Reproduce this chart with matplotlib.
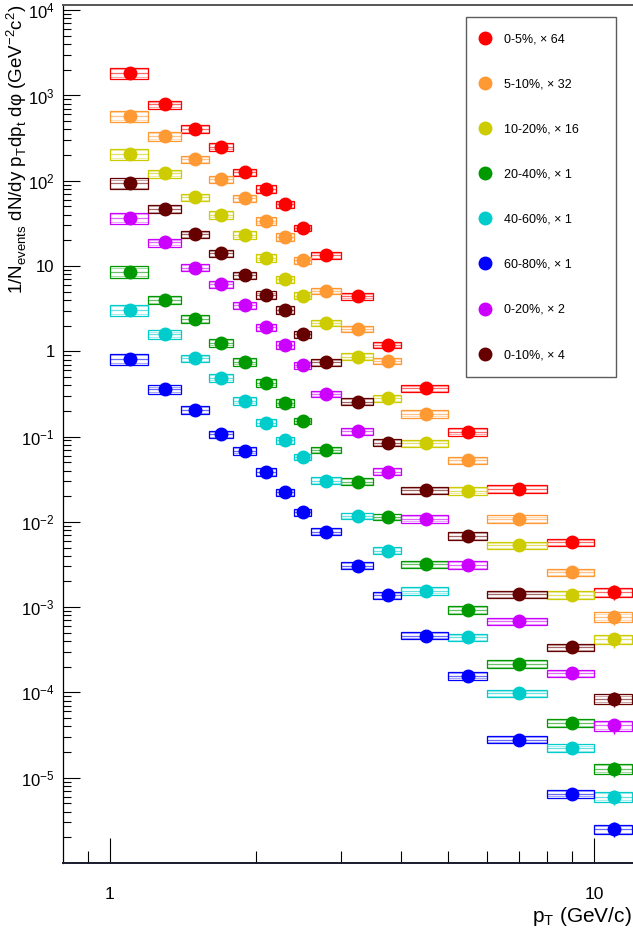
from __future__ import annotations

import matplotlib

matplotlib.use("Agg")
import matplotlib.pyplot as plt
import numpy as np
from matplotlib.lines import Line2D
from matplotlib.patches import Rectangle
from matplotlib.ticker import FixedLocator, LogLocator, NullFormatter

# pT bins (GeV/c) and bin centres
PT_EDGES = [1.0, 1.2, 1.4, 1.6, 1.8, 2.0, 2.2, 2.4, 2.6, 3.0, 3.5, 4.0, 5.0, 6.0, 8.0, 10.0, 12.0]
PT_CENTERS = [1.1, 1.3, 1.5, 1.7, 1.9, 2.1, 2.3, 2.5, 2.8, 3.25, 3.75, 4.5, 5.5, 7.0, 9.0, 11.0]

# scaled yields
Y_0_5 = [1840, 784, 406, 250, 126, 80, 53, 28, 13.4, 4.45, 1.19, 0.368, 0.114, 0.0243, 0.0058, 0.0015]
Y_5_10 = [572, 333, 178, 104, 62, 34, 22, 11.7, 5.1, 1.83, 0.77, 0.186, 0.053, 0.0108, 0.00255, 0.00077]
Y_10_20 = [207, 122, 64, 40, 23.3, 12.5, 7.0, 4.5, 2.16, 0.865, 0.28, 0.083, 0.0232, 0.0053, 0.00139, 0.00042]
Y_20_40 = [8.6, 4.0, 2.4, 1.26, 0.755, 0.428, 0.25, 0.153, 0.070, 0.0297, 0.0115, 0.0032, 0.00093, 0.000216, 4.4e-5, 1.28e-5]
Y_40_60 = [3.05, 1.58, 0.83, 0.49, 0.264, 0.146, 0.09, 0.058, 0.0304, 0.0118, 0.0046, 0.00156, 0.000445, 9.8e-5, 2.23e-5, 6.0e-6]
Y_60_80 = [0.813, 0.358, 0.205, 0.107, 0.0685, 0.0385, 0.0222, 0.013, 0.0077, 0.00307, 0.00137, 0.000465, 0.000157, 2.8e-5, 6.5e-6, 2.5e-6]
Y_0_20 = [36.8, 18.9, 9.6, 6.1, 3.46, 1.91, 1.19, 0.69, 0.316, 0.116, 0.0388, 0.0109, 0.00313, 0.000686, 0.000168, 4.1e-5]
Y_0_10 = [93, 46.5, 23.7, 14.1, 7.8, 4.57, 3.05, 1.59, 0.743, 0.257, 0.085, 0.0235, 0.00685, 0.00142, 0.00034, 8.4e-5]

# relative systematic (box) and statistical (bar) uncertainties per bin
SYS_FRAC = [0.15, 0.11, 0.10, 0.10, 0.10, 0.10, 0.10, 0.09, 0.09, 0.09, 0.09, 0.10, 0.10, 0.10, 0.10, 0.13]
STAT_FRAC = [0.01, 0.01, 0.01, 0.01, 0.01, 0.01, 0.01, 0.01, 0.01, 0.01, 0.01, 0.01, 0.01, 0.03, 0.06, 0.20]

SERIES = [
    ("0-5%, × 64", "#ff0000", Y_0_5),
    ("5-10%, × 32", "#ff9933", Y_5_10),
    ("10-20%, × 16", "#cccc00", Y_10_20),
    ("20-40%, × 1", "#009900", Y_20_40),
    ("40-60%, × 1", "#00cccc", Y_40_60),
    ("60-80%, × 1", "#0000ff", Y_60_80),
    ("0-20%, × 2", "#cc00ff", Y_0_20),
    ("0-10%, × 4", "#660000", Y_0_10),
]

Y_TICKS = [1e-5, 1e-4, 1e-3, 1e-2, 1e-1, 1, 10, 1e2, 1e3, 1e4]
Y_TICK_LABELS = [
    r"$\mathdefault{10^{-5}}$", r"$\mathdefault{10^{-4}}$", r"$\mathdefault{10^{-3}}$",
    r"$\mathdefault{10^{-2}}$", r"$\mathdefault{10^{-1}}$", "1", "10",
    r"$\mathdefault{10^{2}}$", r"$\mathdefault{10^{3}}$", r"$\mathdefault{10^{4}}$",
]
X_TICKS = [1, 10]
X_TICK_LABELS = ["1", "10"]
X_MINOR = [0.9, 2, 3, 4, 5, 6, 7, 8, 9]

W, H = 633, 935
AX_L, AX_R, AX_T, AX_B = 63, 634, 5, 863


def draw_series(ax, color, values):
    for i, y in enumerate(values):
        lo, hi = PT_EDGES[i], PT_EDGES[i + 1]
        s = SYS_FRAC[i]
        ax.add_patch(Rectangle((lo, y * (1 - s)), hi - lo, 2 * s * y, fill=False,
                               edgecolor=color, lw=0.9, zorder=2))
        si = 0.7 * s
        ax.add_patch(Rectangle((lo, y * (1 - si)), hi - lo, 2 * si * y, fill=False,
                               edgecolor=color, lw=0.8, alpha=0.35, zorder=2))
    ax.hlines(values, PT_EDGES[:-1], PT_EDGES[1:], colors=color, lw=0.9, alpha=0.6, zorder=2)
    yerr = np.array(STAT_FRAC) * np.array(values)
    ax.errorbar(PT_CENTERS, values, yerr=yerr, fmt="o", color=color, ms=9,
                elinewidth=1, capsize=0, zorder=3)


def main() -> None:
    plt.rcParams["font.family"] = ["Liberation Sans", "DejaVu Sans"]
    fig = plt.figure(figsize=(W / 100, H / 100), dpi=100)
    ax = fig.add_axes([AX_L / W, 1 - AX_B / H, (AX_R - AX_L) / W, (AX_B - AX_T) / H])
    ax.set_xscale("log")
    ax.set_yscale("log")

    for label, color, values in SERIES:
        draw_series(ax, color, values)

    ax.set_xlim(0.8, 12.1)
    ax.set_ylim(1e-6, 1.15e4)

    ax.yaxis.set_major_locator(FixedLocator(Y_TICKS))
    ax.set_yticklabels(Y_TICK_LABELS)
    ax.yaxis.set_minor_locator(LogLocator(base=10, subs=np.arange(2, 10), numticks=100))
    ax.yaxis.set_minor_formatter(NullFormatter())
    ax.xaxis.set_major_locator(FixedLocator(X_TICKS))
    ax.set_xticklabels(X_TICK_LABELS)
    ax.xaxis.set_minor_locator(FixedLocator(X_MINOR))
    ax.xaxis.set_minor_formatter(NullFormatter())

    ax.tick_params(axis="y", which="major", direction="in", length=12, width=0.8, labelsize=12, pad=6)
    ax.tick_params(axis="y", which="minor", direction="in", length=6, width=0.8)
    ax.tick_params(axis="x", which="major", direction="in", length=18, width=0.8, labelsize=12.5, pad=17)
    ax.tick_params(axis="x", which="minor", direction="in", length=9, width=0.8)

    ax.spines["right"].set_visible(False)
    ax.spines["top"].set_color("#555555")
    ax.spines["top"].set_linewidth(1.4)
    ax.spines["bottom"].set_color("#1a1a2e")
    ax.spines["bottom"].set_linewidth(1.4)
    ax.spines["left"].set_linewidth(0.9)

    ax.set_ylabel("1/N$_{\\mathdefault{events}}$ dN/dy p$_{\\mathdefault{T}}$dp$_{\\mathdefault{t}}$ dφ "
                  "(GeV$^{\\mathdefault{-2}}$c$^{\\mathdefault{2}}$)", loc="top", fontsize=13.5)
    ax.yaxis.set_label_coords((29 - AX_L) / (AX_R - AX_L), 1.0)
    ax.set_xlabel("p$_{\\mathdefault{T}}$ (GeV/c)", loc="right", fontsize=15)
    ax.xaxis.set_label_coords((632 - AX_L) / (AX_R - AX_L), -(905 - AX_B) / (AX_B - AX_T))

    handles = [Line2D([], [], marker="o", ls="none", color=c, ms=9) for _, c, _ in SERIES]
    labels = [lab for lab, _, _ in SERIES]
    leg = ax.legend(handles, labels, loc="upper left", mode="expand",
                    bbox_to_anchor=(466 / W, 1 - 376 / H, 150 / W, 359 / H),
                    bbox_transform=fig.transFigure, fontsize=9, frameon=True, fancybox=False,
                    borderpad=1.3, labelspacing=2.65, handlelength=0.5, handletextpad=1.2,
                    borderaxespad=0)
    leg.get_frame().set_edgecolor("#333333")
    leg.get_frame().set_linewidth(1.0)

    fig.savefig("out.png", dpi=100)
    plt.close(fig)


if __name__ == "__main__":
    main()
